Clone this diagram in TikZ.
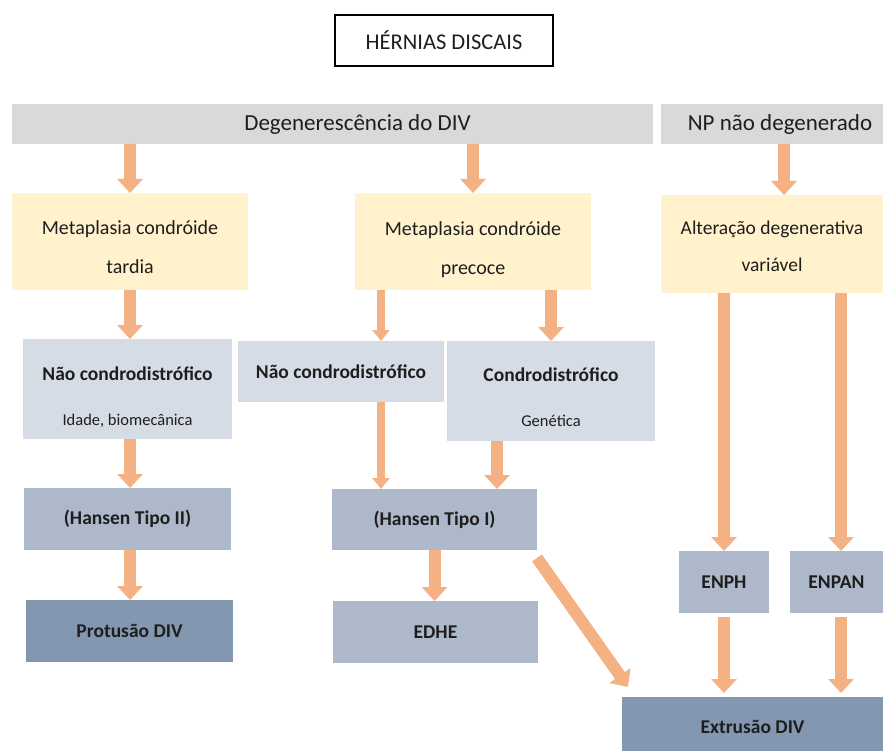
\documentclass[tikz,border=0pt]{standalone}
\usepackage{fontspec}
\setmainfont{Carlito}
\usetikzlibrary{arrows.meta,calc}
\definecolor{arr}{HTML}{F4B183}
\definecolor{barc}{HTML}{D9D9D9}
\definecolor{yel}{HTML}{FFF2CC}
\definecolor{lightb}{HTML}{D6DCE5}
\definecolor{midb}{HTML}{ADB9CA}
\definecolor{darkb}{HTML}{8497B0}
\definecolor{txt}{HTML}{1E1E1E}
\tikzset{
  box/.style={rectangle, inner sep=0pt, outer sep=0pt, anchor=north west, align=center, text=txt},
  thickarr/.style={draw=arr, line width=12pt, -{Triangle[width=25pt,length=14pt]}},
  thinarr/.style={draw=arr, line width=8pt, -{Triangle[width=17pt,length=11pt]}},
  bartext/.style={font=\fontsize{23}{28}\selectfont},
  yeltext/.style={font=\fontsize{20}{39}\selectfont},
  boldtext/.style={font=\fontsize{19.5}{24}\selectfont\bfseries},
  twotext/.style={font=\fontsize{16.5}{45}\selectfont},
}
\begin{document}
\begin{tikzpicture}[x=1pt,y=-1pt]
\path[use as bounding box] (0,0) rectangle (883,751);
% title
\node[box, draw=black, line width=1.3pt, minimum width=218pt, minimum height=51pt, font=\fontsize{22.5}{27}\selectfont] (title) at (335,15) {HÉRNIAS DISCAIS};
% bars
\node[box, fill=barc, minimum width=641pt, minimum height=40pt, bartext] (bar1) at (12,104) {\hspace*{50pt}Degenerescência do DIV};
\node[box, fill=barc, minimum width=222pt, minimum height=40pt, bartext] (bar2) at (661,104) {\hspace*{16pt}NP não degenerado};
% yellow
\node[box, fill=yel, minimum width=236pt, minimum height=97pt, yeltext] (Y1) at (12,193) {\rule{0pt}{26pt}Metaplasia condróide\\tardia};
\node[box, fill=yel, minimum width=236pt, minimum height=97pt, yeltext] (Y2) at (355,193) {\rule{0pt}{30pt}Metaplasia condróide\\precoce};
\node[box, fill=yel, minimum width=222pt, minimum height=98pt, font=\fontsize{19.5}{37}\selectfont] (Y3) at (661,195) {\rule{0pt}{19pt}Alteração degenerativa\\variável};
% light boxes
\node[box, fill=lightb, minimum width=209pt, minimum height=100pt, twotext] (L1) at (23,339) {\rule{0pt}{30.5pt}{\fontsize{19.5}{45}\selectfont\bfseries Não condrodistrófico}\\Idade, biomecânica};
\node[box, fill=lightb, minimum width=206pt, minimum height=61pt, boldtext] (L2) at (238,341) {Não condrodistrófico};
\node[box, fill=lightb, minimum width=208pt, minimum height=100pt, twotext] (L3) at (447,341) {\rule{0pt}{27pt}{\fontsize{19.5}{45}\selectfont\bfseries Condrodistrófico}\\Genética};
% Hansen
\node[box, fill=midb, minimum width=207pt, minimum height=62pt, boldtext] (H2) at (24,488) {(Hansen Tipo II)};
\node[box, fill=midb, minimum width=205pt, minimum height=61pt, boldtext] (H1) at (332,489) {(Hansen Tipo I)};
% bottom
\node[box, fill=darkb, minimum width=207pt, minimum height=62pt, boldtext] (Prot) at (26,600) {Protusão DIV};
\node[box, fill=midb, minimum width=205pt, minimum height=62pt, boldtext] (EDHE) at (333,601) {EDHE};
\node[box, fill=midb, minimum width=90pt, minimum height=62pt, boldtext] (ENPH) at (679,551) {ENPH};
\node[box, fill=midb, minimum width=93pt, minimum height=62pt, boldtext] (ENPAN) at (790,551) {ENPAN};
\node[box, fill=darkb, minimum width=261pt, minimum height=54pt, boldtext] (Ext) at (622,697) {\rule{0pt}{20pt}Extrusão DIV};
% helper coordinates
\coordinate (a3) at ($(bar2.south)+(12,0)$);
\coordinate (a5) at ($(Y2.south)+(-92,0)$);
\coordinate (a10) at ($(H1.north)+(62.5,0)$);
\coordinate (a15) at ($(ENPAN.south)+(4.5,4)$);
% arrows
\draw[thickarr] (bar1.south -| Y1.north) -- (Y1.north);
\draw[thickarr] (bar1.south -| Y2.north) -- (Y2.north);
\draw[thickarr] (a3) -- (a3 |- Y3.north);
\draw[thickarr] (Y1.south) -- (Y1.south |- L1.north);
\draw[thinarr] (a5) -- (a5 |- L2.north);
\draw[thickarr] (Y2.south -| L3.north) -- (L3.north);
\draw[thickarr] (Y3.south -| ENPH.north) -- (ENPH.north);
\draw[thickarr] (Y3.south -| a15) -- (ENPAN.north -| a15);
\draw[thickarr] (L1.south -| Y1.south) -- (H2.north -| Y1.south);
\draw[thinarr] (L2.south -| a5) -- (H1.north -| a5);
\draw[thickarr] (L3.south -| a10) -- (a10);
\draw[thickarr] (H2.south -| Y1.south) -- (Prot.north -| Y1.south);
\draw[thickarr] (H1.south) -- (EDHE.north -| H1.south);
\draw[thickarr] ($(H1.south east)+(0,8)$) -- ($(Ext.north west)+(6,-10)$);
\draw[thickarr] ($(ENPH.south)+(0,4)$) -- ($(Ext.north -| ENPH.south)+(0,-4)$);
\draw[thickarr] (a15) -- ($(Ext.north -| a15)+(0,-4)$);
\end{tikzpicture}
\end{document}
